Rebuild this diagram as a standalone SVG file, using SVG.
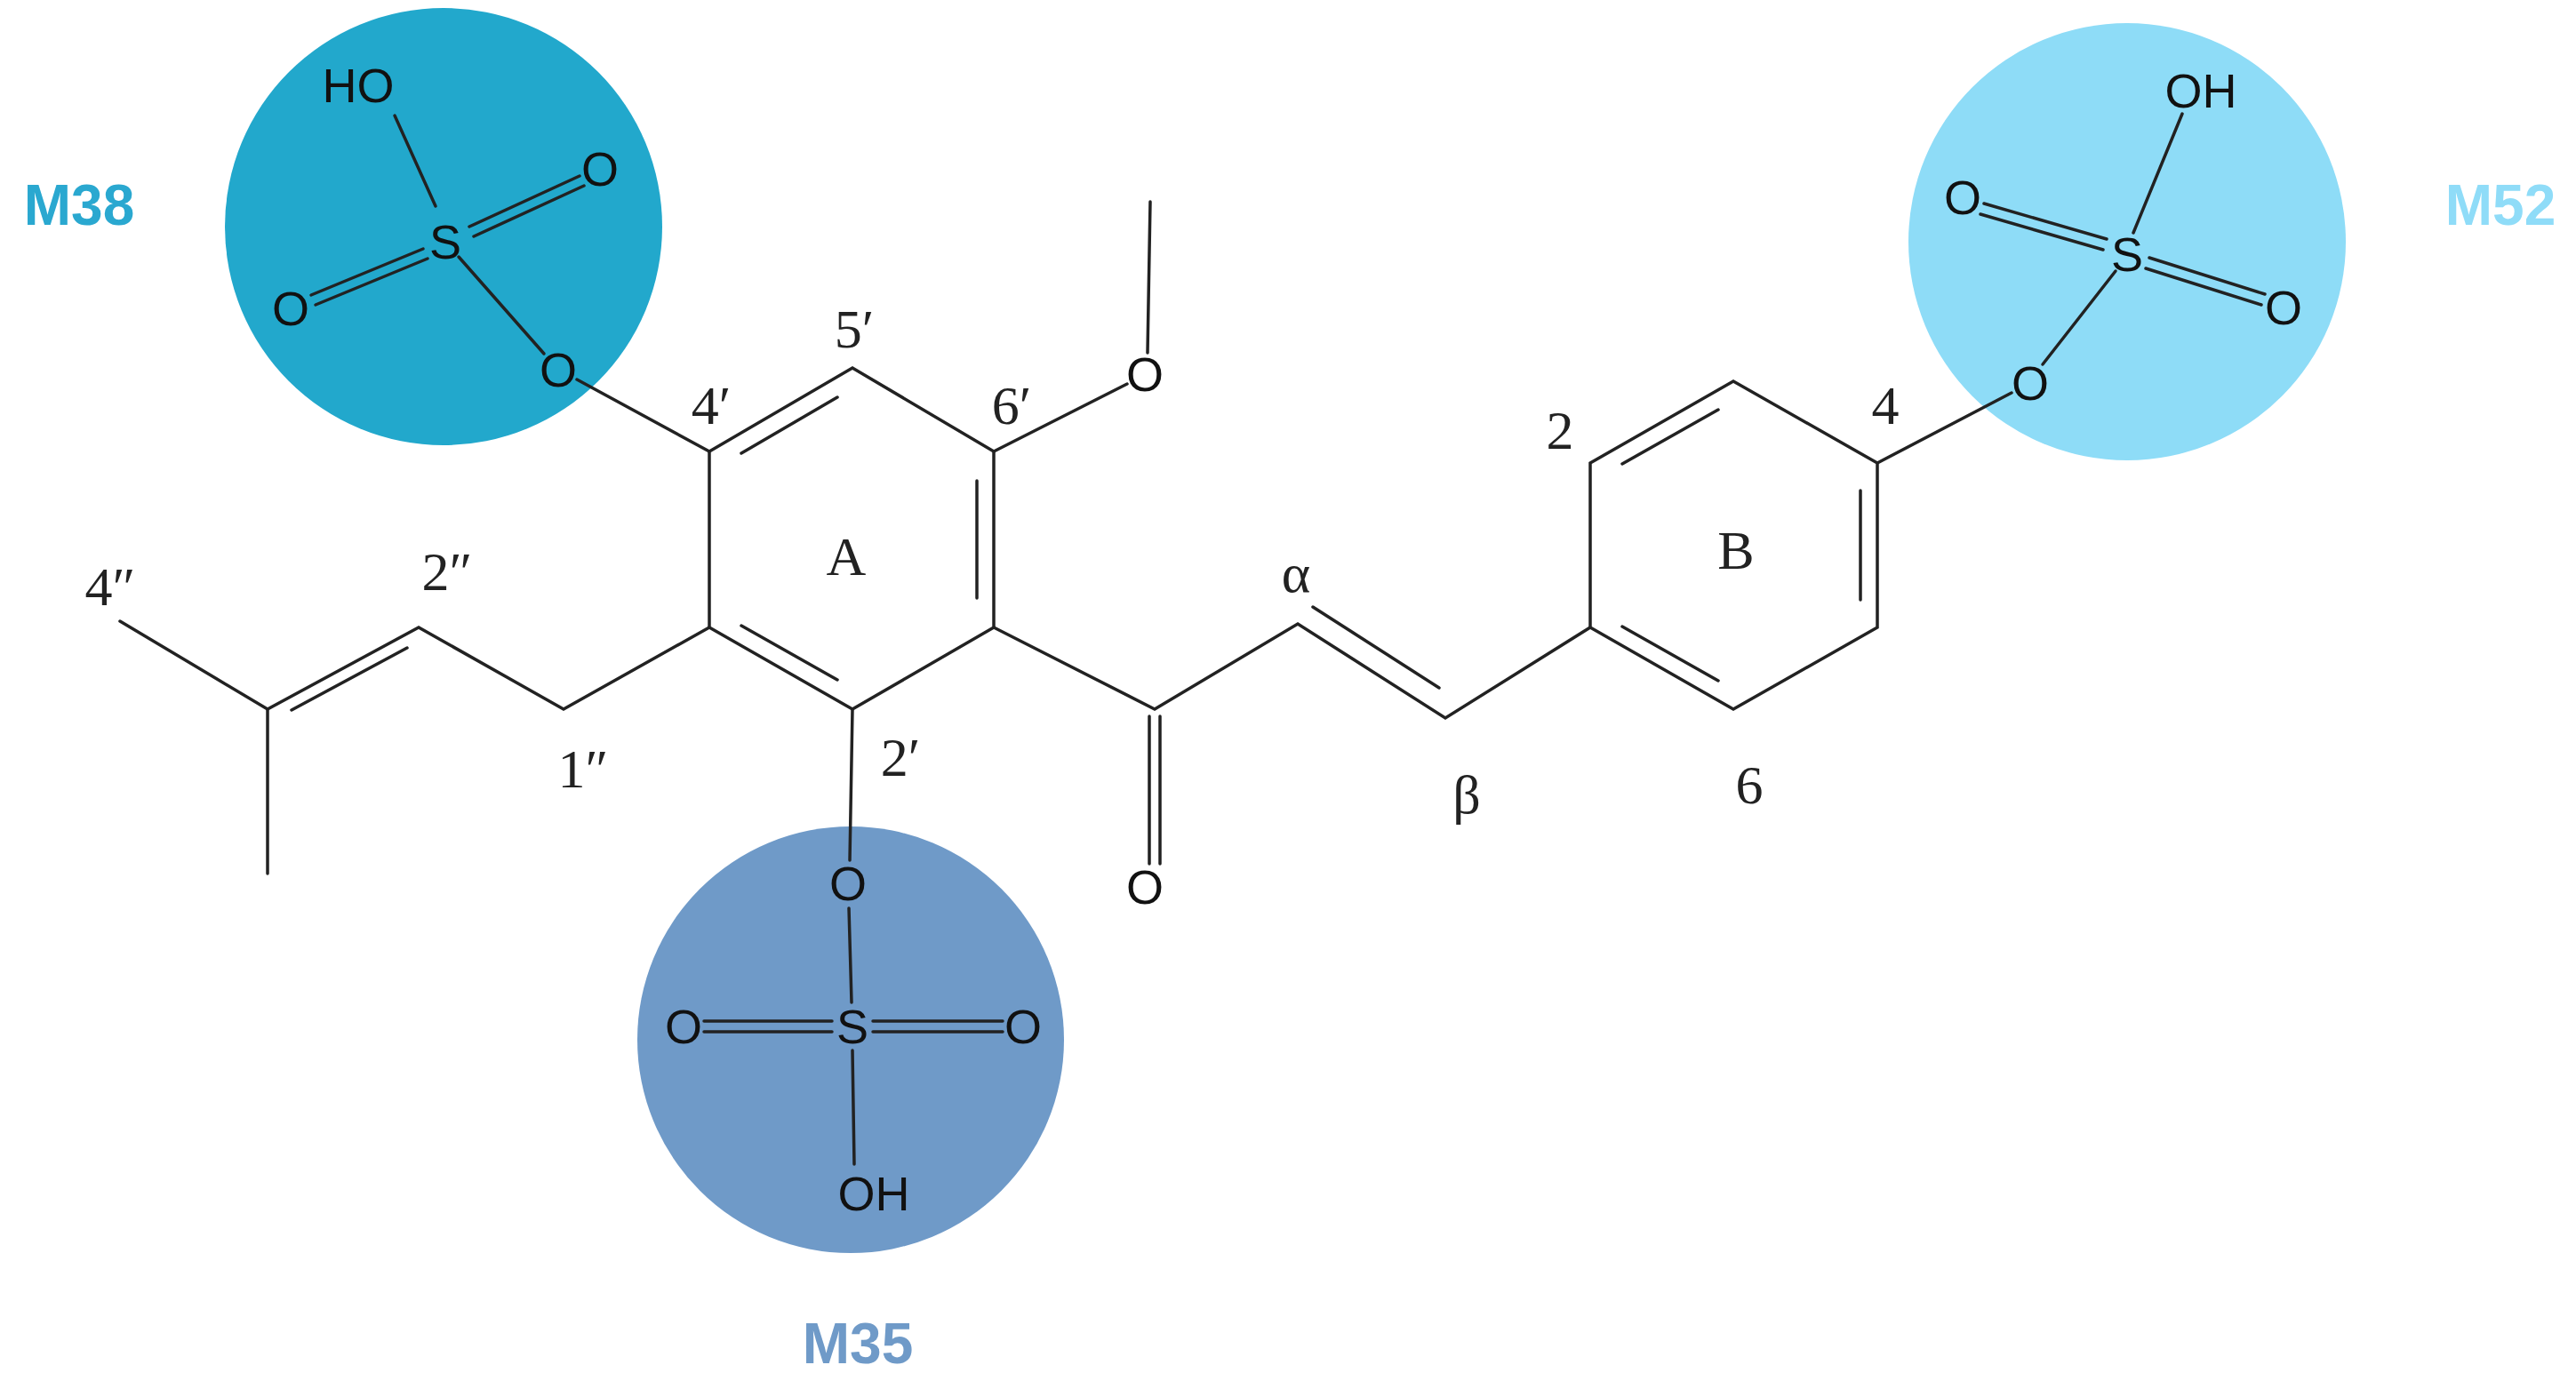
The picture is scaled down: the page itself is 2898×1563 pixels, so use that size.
<svg xmlns="http://www.w3.org/2000/svg" width="2898" height="1563" viewBox="0 0 2898 1563">
<style>
.b{stroke:#222;stroke-width:3.5;fill:none;stroke-linecap:round}
.at{font-family:"Liberation Sans",Arial,sans-serif;font-size:54px;fill:#111;text-anchor:middle;dominant-baseline:central}
.lb{font-family:"Liberation Serif","Times New Roman",serif;font-size:62px;fill:#222;text-anchor:middle;dominant-baseline:central}
.m{font-family:"Liberation Sans",Arial,sans-serif;font-size:64px;font-weight:bold;text-anchor:middle;dominant-baseline:central}
</style>
<rect width="2898" height="1563" fill="#fff"/>
<g id="M38">
<circle cx="499" cy="255" r="246" fill="#22a8cc"/>
<text class="m" x="89" y="231" fill="#2aa8d0">M38</text>
</g>
<g id="M52">
<circle cx="2393" cy="272" r="246" fill="#8edcf7"/>
<text class="m" x="2813" y="231" fill="#8fdcf8">M52</text>
</g>
<g id="M35">
<circle cx="957" cy="1170" r="240" fill="#6f9ac8"/>
<text class="m" x="965" y="1512" fill="#6f9ac8">M35</text>
</g>
<g id="connectors">
<!-- ring A -->
<polyline class="b" points="798,508 959,414 1118,508 1118,706 959,798 798,706 798,508"/>
<line class="b" x1="834" y1="510" x2="942" y2="447"/>
<line class="b" x1="1099" y1="541" x2="1099" y2="673"/>
<line class="b" x1="942" y1="765" x2="834" y2="704"/>
<!-- methoxy -->
<line class="b" x1="1118" y1="508" x2="1268" y2="432"/>
<line class="b" x1="1291" y1="397" x2="1294" y2="227"/>
<!-- M38 sulfate -->
<line class="b" x1="798" y1="508" x2="649" y2="427"/>
<line class="b" x1="612" y1="398" x2="516" y2="289"/>
<line class="b" x1="444" y1="130" x2="490" y2="232"/>
<line class="b" x1="528" y1="255" x2="652" y2="198"/>
<line class="b" x1="533" y1="266" x2="657" y2="209"/>
<line class="b" x1="476" y1="280" x2="350" y2="332"/>
<line class="b" x1="481" y1="291" x2="355" y2="343"/>
<!-- prenyl -->
<polyline class="b" points="798,706 634,798 471,706 301,798 135,699"/>
<line class="b" x1="301" y1="798" x2="301" y2="983"/>
<line class="b" x1="458" y1="729" x2="328" y2="799"/>
<!-- M35 sulfate -->
<line class="b" x1="959" y1="798" x2="956" y2="968"/>
<line class="b" x1="955" y1="1022" x2="958" y2="1128"/>
<line class="b" x1="959" y1="1182" x2="961" y2="1310"/>
<line class="b" x1="792" y1="1149" x2="936" y2="1149"/>
<line class="b" x1="792" y1="1161" x2="936" y2="1161"/>
<line class="b" x1="982" y1="1149" x2="1128" y2="1149"/>
<line class="b" x1="982" y1="1161" x2="1128" y2="1161"/>
<!-- enone -->
<polyline class="b" points="1118,706 1299,798 1460,702 1626,808 1789,706"/>
<line class="b" x1="1293" y1="806" x2="1293" y2="972"/>
<line class="b" x1="1305" y1="806" x2="1305" y2="972"/>
<line class="b" x1="1477" y1="683" x2="1619" y2="774"/>
<!-- ring B -->
<polyline class="b" points="1789,706 1789,521 1950,429 2112,521 2112,706 1950,798 1789,706"/>
<line class="b" x1="1825" y1="522" x2="1933" y2="461"/>
<line class="b" x1="2093" y1="552" x2="2093" y2="675"/>
<line class="b" x1="1933" y1="766" x2="1825" y2="705"/>
<!-- M52 sulfate -->
<line class="b" x1="2112" y1="521" x2="2263" y2="442"/>
<line class="b" x1="2298" y1="410" x2="2380" y2="305"/>
<line class="b" x1="2400" y1="262" x2="2455" y2="128"/>
<line class="b" x1="2370" y1="269" x2="2232" y2="229"/>
<line class="b" x1="2366" y1="281" x2="2228" y2="241"/>
<line class="b" x1="2418" y1="290" x2="2548" y2="331"/>
<line class="b" x1="2414" y1="302" x2="2544" y2="343"/>
</g>
<g id="atoms">
<text class="at" x="403" y="96">HO</text>
<text class="at" x="501" y="272">S</text>
<text class="at" x="675" y="190">O</text>
<text class="at" x="327" y="347">O</text>
<text class="at" x="628" y="416">O</text>
<text class="at" x="1288" y="421">O</text>
<text class="at" x="1288" y="998">O</text>
<text class="at" x="954" y="994">O</text>
<text class="at" x="959" y="1155">S</text>
<text class="at" x="769" y="1155">O</text>
<text class="at" x="1151" y="1155">O</text>
<text class="at" x="983" y="1343">OH</text>
<text class="at" x="2284" y="431">O</text>
<text class="at" x="2393" y="286">S</text>
<text class="at" x="2208" y="222">O</text>
<text class="at" x="2569" y="346">O</text>
<text class="at" x="2476" y="102">OH</text>
</g>
<g id="labels">
<text class="lb" x="961" y="370">5′</text>
<text class="lb" x="800" y="456">4′</text>
<text class="lb" x="1138" y="456">6′</text>
<text class="lb" x="952" y="626">A</text>
<text class="lb" x="503" y="643">2″</text>
<text class="lb" x="124" y="660">4″</text>
<text class="lb" x="656" y="865">1″</text>
<text class="lb" x="1013" y="852">2′</text>
<text class="lb" x="1458" y="645">α</text>
<text class="lb" x="1650" y="894">β</text>
<text class="lb" x="1755" y="484">2</text>
<text class="lb" x="2121" y="456">4</text>
<text class="lb" x="1953" y="619">B</text>
<text class="lb" x="1968" y="883">6</text>
</g>
</svg>
